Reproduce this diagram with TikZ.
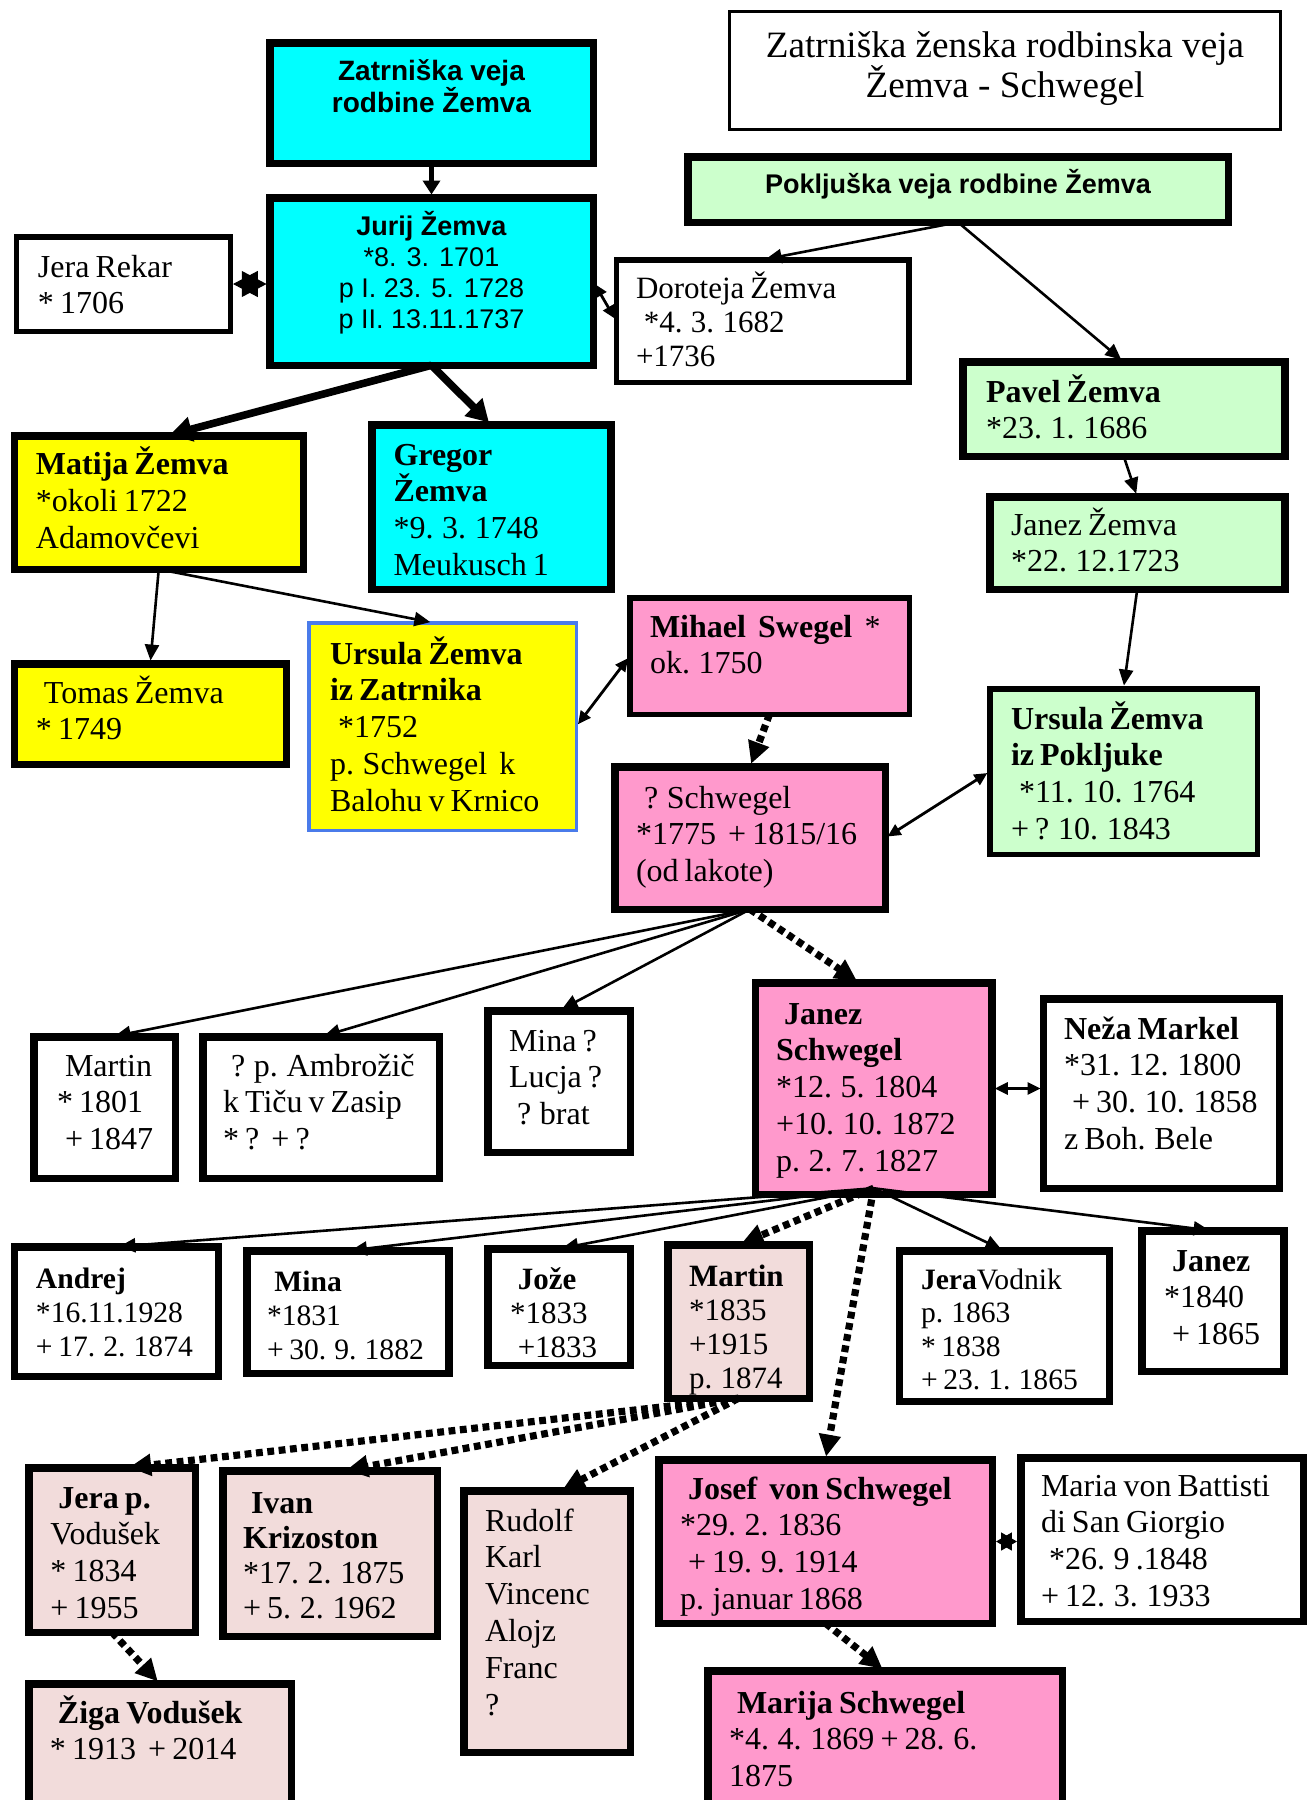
\documentclass[tikz,border=0pt]{standalone}
\usepackage{fontspec}
\setmainfont{Liberation Serif}
\setsansfont{Liberation Sans}
\usetikzlibrary{arrows.meta,calc}
\definecolor{cy}{HTML}{00FFFF}
\definecolor{ye}{HTML}{FFFF00}
\definecolor{gr}{HTML}{CCFFCC}
\definecolor{pk}{HTML}{FF99CC}
\definecolor{lp}{HTML}{F2DCDB}
\definecolor{bl}{HTML}{4A7BEA}
\newcommand\bodyfont{\fontsize{16}{18.4}\selectfont}
\newcommand\ls{\hspace*{0.25em}}
\newcommand\pb[8]{%
  \pgfmathsetmacro\pbw{(#5-#3-#7)*0.5}%
  \pgfmathsetmacro\pbh{(#6-#4-#7)*0.5}%
  \pgfmathsetmacro\pbx{#3+#7/2}%
  \pgfmathsetmacro\pby{#4+#7/2}%
  \node[pbox,#1,line width=#7*0.5pt,anchor=north west] (#2) at (\pbx,\pby)
    {\parbox[t][\pbh pt][t]{\pbw pt}{\normalfont\bodyfont#8}};%
}
\newcommand\tx[3]{%
  \pgfmathsetmacro\tlx{(#1-\pbx)*0.5}%
  \pgfmathsetmacro\tby{(#2-\pby)*0.5}%
  \raggedright\leftskip=\tlx pt\relax\spaceskip=0.19em\relax
  \rule{0pt}{\tby pt}#3}
\newcommand\ctx[2]{%
  \pgfmathsetmacro\tby{(#1-\pby)*0.5}%
  \centering\rule{0pt}{\tby pt}#2}
\tikzset{
  pbox/.style={draw, fill=white, inner sep=0pt, outer sep=0pt},
  con/.style={line width=1.3pt, shorten >=1.6pt, -{Triangle[length=8pt,width=7pt]}},
  thk/.style={line width=3.8pt, shorten >=1.6pt, -{Triangle[length=11pt,width=12pt]}},
  dots/.style={line width=3.6pt, dash pattern=on 3.4pt off 2.3pt, shorten >=1.6pt, -{Triangle[length=11pt,width=10.5pt]}},
  biar/.style={line width=1.4pt, shorten >=1.4pt, shorten <=1.4pt, {Triangle[length=6.5pt,width=6pt]}-{Triangle[length=6.5pt,width=6pt]}},
  starl/.style={line width=0.5pt, shorten >=1.6pt, shorten <=1.4pt, {Triangle[length=12.4pt,width=13pt]}-{Triangle[length=12.4pt,width=13pt]}},
  stars/.style={line width=0.5pt, shorten >=1.9pt, shorten <=1.9pt, {Triangle[length=7.9pt,width=9pt]}-{Triangle[length=7.9pt,width=9pt]}},
}
\begin{document}
\begin{tikzpicture}[x=0.5pt,y=-0.5pt]
\useasboundingbox (0,0) rectangle (1308,1800);
\clip (0,0) rectangle (1308,1800);

% ---------------- boxes ----------------
\pb{fill=white}{title}{728}{10}{1282}{131}{3}{\fontsize{18.6}{20.25}\selectfont\ctx{57}{Zatrniška ženska rodbinska veja\\Žemva - Schwegel}}
\pb{fill=cy}{zatr}{266}{39}{597}{167}{7.5}{\sffamily\bfseries\fontsize{14}{16}\selectfont\ctx{80}{Zatrniška veja\\rodbine Žemva}}
\pb{fill=cy}{jurij}{266}{194}{597}{369}{7.5}{\sffamily\fontsize{13.5}{15.5}\selectfont\ctx{235}{\textbf{Jurij Žemva}\\{}*8. 3. 1701\\p I. 23. 5. 1728\\p II. 13.11.1737}}
\pb{fill=white}{jera}{13.5}{234}{233}{334}{5.5}{\tx{38}{277}{Jera Rekar\\{}* 1706}}
\pb{fill=gr}{pokl}{684}{153}{1232}{226}{7.5}{\sffamily\bfseries\fontsize{13.5}{15.5}\selectfont\ctx{193}{Pokljuška veja rodbine Žemva}}
\pb{fill=white}{dor}{613.5}{257}{911.5}{385}{5.5}{\fontsize{15.5}{17.2}\selectfont\tx{636}{298}{Doroteja Žemva\\\ls{}*4. 3. 1682\\+1736}}
\pb{fill=gr}{pavel}{959}{358}{1288.5}{460}{7.5}{\tx{986}{402}{\textbf{Pavel Žemva}\\{}*23. 1. 1686}}
\pb{fill=gr}{janezz}{986}{493}{1288.5}{593}{7.5}{\tx{1011}{535}{Janez Žemva\\{}*22. 12.1723}}
\pb{fill=ye}{matija}{10.5}{432}{307}{573}{7.5}{\fontsize{16}{18.7}\selectfont\tx{36}{474}{\textbf{Matija Žemva}\\{}*okoli 1722\\Adamovčevi}}
\pb{fill=cy}{gregor}{368}{421}{614.5}{593}{7.5}{\tx{393.5}{465}{\textbf{Gregor}\\\textbf{Žemva}\\{}*9. 3. 1748\\Meukusch 1}}
\pb{fill=ye}{tomas}{10.5}{660}{290}{768}{7.5}{\tx{36}{703}{\ls Tomas Žemva\\{}* 1749}}
\pb{fill=ye,draw=bl}{ursz}{307}{621}{578}{832}{3.5}{\tx{330}{664}{\textbf{Ursula Žemva}\\\textbf{iz Zatrnika}\\\ls{}*1752\\p. Schwegel\ \ k\\Balohu v Krnico}}
\pb{fill=pk}{mihael}{627}{595}{912}{717}{5.5}{\tx{650}{637}{\textbf{Mihael\ \ Swegel}\ \ *\\ok. 1750}}
\pb{fill=pk}{qs}{611}{763}{889}{913}{7.5}{\tx{636}{808}{\ls ? Schwegel\\{}*1775\ \ + 1815/16\\(od lakote)}}
\pb{fill=gr}{ursp}{987}{686}{1260}{857}{5.5}{\tx{1011}{729}{\textbf{Ursula Žemva}\\\textbf{iz Pokljuke}\\\ls{}*11. 10. 1764\\+ ? 10. 1843}}
\pb{fill=white}{martina}{30}{1033}{179}{1182}{7.5}{\tx{57}{1076}{\ls Martin\\{}* 1801\\\ls + 1847}}
\pb{fill=white}{ambr}{199}{1033}{443}{1182}{7.5}{\tx{223}{1076}{\ls ? p. Ambrožič\\k Tiču v Zasip\\{}* ?\ \ + ?}}
\pb{fill=white}{minaq}{484}{1007}{634}{1156}{7.5}{\tx{509}{1051}{Mina ?\\Lucja ?\\\ls ? brat}}
\pb{fill=pk}{janezs}{751.6}{979}{995.7}{1198}{7.5}{\tx{776}{1024}{\textbf{\ls Janez}\\\textbf{Schwegel}\\{}*12. 5. 1804\\+10. 10. 1872\\p. 2. 7. 1827}}
\pb{fill=white}{neza}{1039.6}{995}{1283}{1192}{7.5}{\tx{1064}{1039}{\textbf{Neža Markel}\\{}*31. 12. 1800\\\ls + 30. 10. 1858\\z Boh. Bele}}
\pb{fill=white}{andrej}{10.5}{1243}{222}{1380}{7.5}{\fontsize{14.8}{17}\selectfont\tx{36}{1288}{\textbf{Andrej}\\{}*16.11.1928\\+ 17. 2. 1874}}
\pb{fill=white}{mina}{243}{1247}{452.5}{1377}{7.5}{\fontsize{14.8}{17}\selectfont\tx{267}{1291}{\textbf{\ls Mina}\\{}*1831\\+ 30. 9. 1882}}
\pb{fill=white}{joze}{484}{1245}{634}{1369}{7.5}{\fontsize{15.5}{17}\selectfont\tx{510}{1289}{\textbf{\ls Jože}\\{}*1833\\\ls +1833}}
\pb{fill=lp}{martinb}{664}{1241}{813}{1402}{7.5}{\fontsize{15.5}{17}\selectfont\tx{689}{1286}{\textbf{Martin}\\{}*1835\\+1915\\p. 1874}}
\pb{fill=white}{jerav}{895.6}{1247}{1113}{1405}{7.5}{\fontsize{14.8}{16.8}\selectfont\tx{921}{1289}{\textbf{Jera}Vodnik\\p. 1863\\{}* 1838\\+ 23. 1. 1865}}
\pb{fill=white}{janezb}{1138}{1227}{1287.5}{1375}{7.5}{\tx{1164}{1271}{\textbf{\ls Janez}\\{}*1840\\\ls + 1865}}
\pb{fill=lp}{jerap}{25}{1464}{199}{1636}{7.5}{\tx{50.5}{1508}{\textbf{\ls Jera p.}\\Vodušek\\{}* 1834\\+ 1955}}
\pb{fill=lp}{ivan}{219}{1467}{441}{1640}{7.5}{\fontsize{16}{17.6}\selectfont\tx{243}{1513}{\textbf{\ls Ivan}\\\textbf{Krizoston}\\{}*17. 2. 1875\\+ 5. 2. 1962}}
\pb{fill=lp}{rudolf}{460}{1487}{634}{1756}{7.5}{\tx{485}{1531}{Rudolf\\Karl\\Vincenc\\Alojz\\Franc\\?}}
\pb{fill=pk}{josef}{655}{1456}{996}{1627}{7.5}{\tx{680}{1499}{\textbf{\ls Josef\ \ von Schwegel}\\{}*29. 2. 1836\\\ls + 19. 9. 1914\\p. januar 1868}}
\pb{fill=white}{maria}{1017}{1454}{1307}{1625}{7.5}{\tx{1041}{1496}{Maria von Battisti\\di San Giorgio\\\ls{}*26. 9 .1848\\+ 12. 3. 1933}}
\pb{fill=lp}{ziga}{25}{1680}{295}{1820}{7.5}{\tx{50}{1723}{\textbf{\ls Žiga Vodušek}\\{}* 1913\ \ + 2014}}
\pb{fill=pk}{marija}{704}{1667}{1066}{1820}{7.5}{\tx{729}{1713}{\textbf{\ls Marija Schwegel}\\{}*4. 4. 1869 + 28. 6.\\1875}}

% ---------------- connectors ----------------
\draw[line width=2.5pt, shorten >=1.6pt, -{Triangle[length=7pt,width=8.5pt]}] (zatr.south) -- (jurij.north);
\draw[thk] (jurij.south) -- ($(matija.north)+(8,0)$);
\draw[thk] (jurij.south) -- (gregor.north);
\draw[starl] (jera.east) -- (jera.east -| jurij.west);
\draw[con] (pokl.south) -- (dor.north);
\draw[con] (pokl.south) -- (pavel.north);
\draw[biar] (jurij.east) -- (dor.west);
\draw[con] (pavel.south) -- (janezz.north);
\draw[con] (janezz.south) -- (ursp.north);
\draw[con] (matija.south) -- (tomas.north);
\draw[con] (matija.south) -- ($(ursz.north)+(-9,0)$);
\draw[biar] (ursz.east) -- (mihael.west);
\draw[dots] (mihael.south) -- (qs.north);
\draw[biar] (qs.east) -- (ursp.west);
\draw[con] (qs.south) -- ($(martina.north)+(7,0)$);
\draw[con] (qs.south) -- (ambr.north);
\draw[con] (qs.south) -- (minaq.north);
\draw[dots] (qs.south) -- ($(janezs.north)+(-14,0)$);
\draw[biar] (janezs.east) -- (janezs.east -| neza.west);
\coordinate (jsa) at ($(janezs.south)+(0,-6)$);
\draw[con] (jsa) -- (andrej.north);
\draw[con] (jsa) -- (mina.north);
\draw[con] (jsa) -- (joze.north);
\draw[dots] (jsa) -- (martinb.north);
\draw[con] (jsa) -- (jerav.north);
\draw[con] (jsa) -- (janezb.north);
\draw[dots] (jsa) -- (josef.north);
\draw[dots] (martinb.south) -- ($(jerap.north)+(14,0)$);
\draw[dots] (martinb.south) -- ($(ivan.north)+(13,0)$);
\draw[dots] (martinb.south) -- ($(rudolf.north)+(13,0)$);
\draw[dots] (jerap.south) -- (ziga.north);
\draw[stars] (josef.east) -- (josef.east -| maria.west);
\draw[dots] (josef.south) -- (marija.north);
\end{tikzpicture}
\end{document}
